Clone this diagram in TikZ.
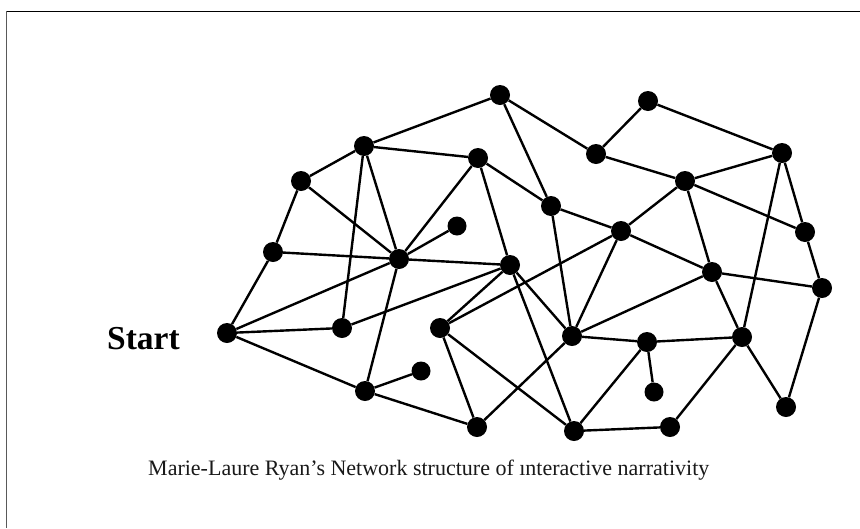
\documentclass[tikz,border=0pt]{standalone}
\usepackage{fontspec}
\setmainfont{Liberation Serif}
\begin{document}
\begin{tikzpicture}[x=1pt,y=-1pt,
  dot/.style={circle,fill=black,inner sep=0pt,minimum size=20pt},
  leaf/.style={circle,fill=black,inner sep=0pt,minimum size=19pt},
  link/.style={line width=2.4pt,black}]
\useasboundingbox (0,0) rectangle (860,528);
\fill[white] (0,0) rectangle (860,528);
% frame
\draw[line width=1.2pt,black] (6,11.5) -- (860,11.5);
\draw[line width=1.5pt,gray!70!black] (6.5,11) -- (6.5,528);
% nodes
\node[dot] (A) at (500,95) {};
\node[dot] (B) at (364,146) {};
\node[dot] (C) at (478,158) {};
\node[dot] (D) at (301,181) {};
\node[leaf] (E) at (457,226) {};
\node[dot] (F) at (273,252) {};
\node[dot] (G) at (399,259) {};
\node[dot] (H) at (510,265) {};
\node[dot] (I) at (648,101) {};
\node[dot] (J) at (596,154) {};
\node[dot] (K) at (782,153) {};
\node[dot] (L) at (685,181) {};
\node[dot] (M) at (551,206) {};
\node[dot] (N) at (621,231) {};
\node[dot] (O) at (805,232) {};
\node[dot] (P) at (712,272) {};
\node[dot] (Q) at (822,288) {};
\node[dot] (S) at (227,333) {};
\node[dot] (R) at (342,328) {};
\node[dot] (T) at (440,328) {};
\node[leaf] (U) at (421,371) {};
\node[dot] (V) at (365,391) {};
\node[dot] (W) at (477,427) {};
\node[dot] (X) at (572,336) {};
\node[dot] (Y) at (647,342) {};
\node[dot] (Z) at (742,337) {};
\node[leaf] (Yl) at (654,392) {};
\node[dot] (AA) at (786,407) {};
\node[dot] (BB) at (574,431) {};
\node[dot] (CC) at (670,427) {};
% edges
\foreach \a/\b in {A/B,A/J,A/M,B/C,B/D,B/G,B/R,C/G,C/H,C/M,D/F,D/G,E/G,F/G,F/S,
  G/H,G/S,G/V,H/R,H/T,H/X,H/BB,I/J,I/K,J/L,K/L,K/O,K/Z,L/O,L/N,L/P,M/N,M/X,
  N/P,N/X,N/T,O/Q,P/Q,P/Z,P/X,R/S,S/V,T/W,T/BB,U/V,V/W,W/X,X/Y,Y/Z,Y/Yl,Y/BB,
  Z/CC,Z/AA,Q/AA,BB/CC}
  \draw[link] (\a) -- (\b);
% texts
\node[font=\bfseries\fontsize{33.5}{34}\selectfont,anchor=base west,inner sep=0pt] (start) at (107,349) {Start};
\node[font=\fontsize{22}{22}\selectfont,text=black!90,anchor=base west,inner sep=0pt] (cap) at (148,475) {Marie-Laure Ryan’s Network structure of ınteractive narrativity};
\end{tikzpicture}
\end{document}
